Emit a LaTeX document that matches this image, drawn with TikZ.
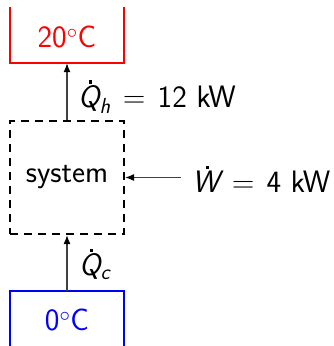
\documentclass[tikz,border=0pt]{standalone}
\usepackage{fontspec}
\usetikzlibrary{arrows.meta}
\newcommand{\dotover}[1]{\leavevmode\setbox0\hbox{\itshape #1}\rlap{\hbox to \wd0{\hss\kern0.12em\raisebox{0.76em}{\rule{0.1em}{0.1em}}\hss}}\box0\relax}
\newcommand{\flowsym}[2]{\dotover{#1}\textsubscript{\itshape #2}}
\newcommand{\eqsign}{\kern0.08em=\kern0.08em}
\begin{document}
\begin{tikzpicture}[x=1pt,y=-1pt,
  font=\fontsize{31}{36}\selectfont\sffamily,
  res/.style={minimum width=114pt,minimum height=56pt,inner sep=0pt},
  sysbox/.style={draw,line width=2.2pt,dash pattern=on 8pt off 6pt,minimum width=114pt,minimum height=113pt,inner sep=0pt},
  flow/.style={line width=1.1pt,draw=black!75,-{Latex[length=9pt,width=7pt,black]}},
  wall/.style={line width=2.2pt}]
\useasboundingbox (0,0) rectangle (333,346);
\node[res] (hot) at (67,35) {};
\node[red] (hottext) at (67,37) {20$^\circ$C};
\draw[wall,red] (hot.north west) -- (hot.south west) -- (hot.south east) -- (hot.north east);
\node[res] (cold) at (67,319) {};
\node[blue] (coldtext) at (67,320) {0$^\circ$C};
\draw[wall,blue] (cold.south west) -- (cold.north west) -- (cold.north east) -- (cold.south east);
\node[sysbox] (sys) at (67,177.5) {system};
\node[anchor=west,inner sep=0pt] (wl) at (192,179) {\dotover{W} \eqsign{} 4 kW};
\coordinate (wstart) at (181,177.5);
\draw[flow] (sys.north) -- (hot.south);
\draw[flow] (cold.north) -- (sys.south);
\draw[flow] (wstart) -- (sys.east);
\node[anchor=west,inner sep=0pt] (qh) at (78,97) {\flowsym{Q}{h} \eqsign{} 12 kW};
\node[anchor=west,inner sep=0pt] (qc) at (79,264) {\flowsym{Q}{c}};
\end{tikzpicture}
\end{document}
